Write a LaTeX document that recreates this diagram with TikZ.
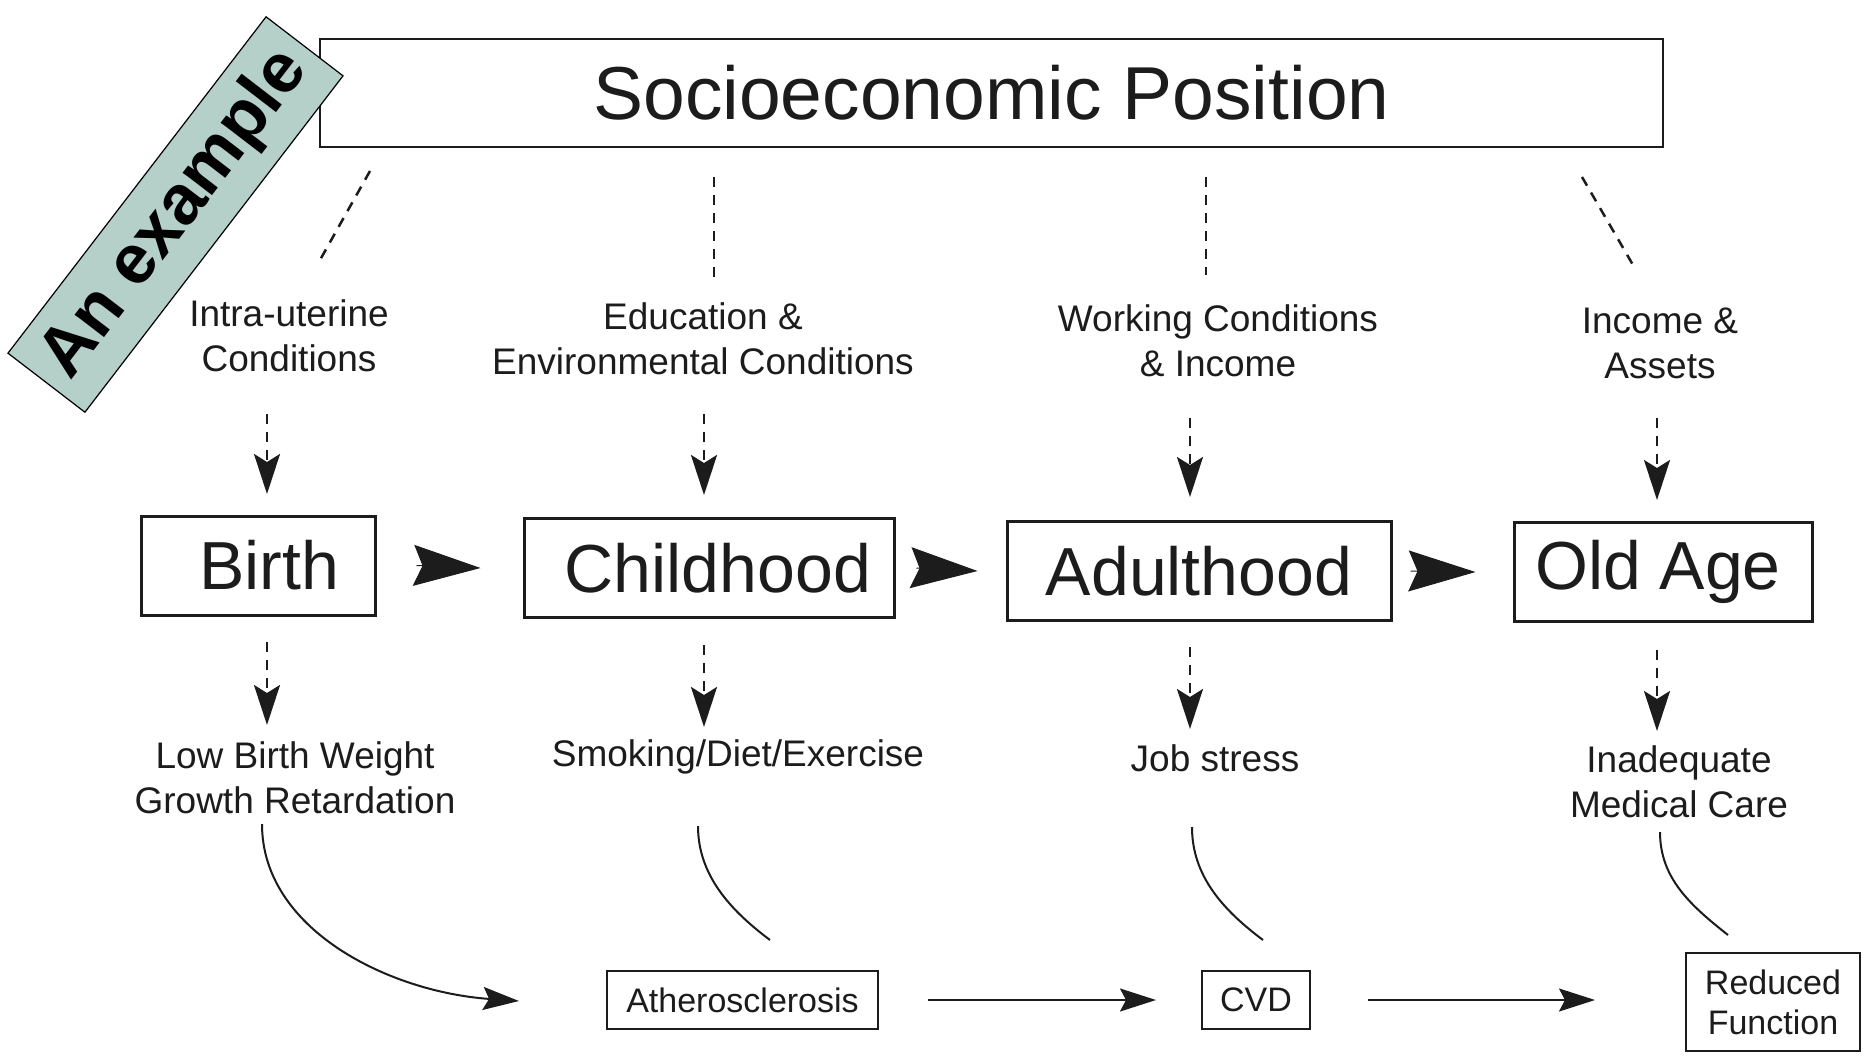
\documentclass[tikz,border=0pt]{standalone}
\usepackage{fontspec}
\setmainfont{Liberation Sans}
\usetikzlibrary{arrows.meta}
\definecolor{labelfill}{RGB}{181,207,201}
\definecolor{ink}{RGB}{28,28,28}
\begin{document}
\begin{tikzpicture}[x=1pt,y=-1pt,
  every node/.style={text=ink, inner sep=0pt},
  topbox/.style={draw=ink, line width=2.5pt, minimum width=1343pt, minimum height=108pt, font=\fontsize{75}{80}\selectfont},
  stagebox/.style={draw=ink, line width=3pt, minimum height=99pt, font=\fontsize{68}{72}\selectfont},
  factor/.style={align=center, font=\fontsize{37}{45}\selectfont},
  outbox/.style={draw=ink, line width=2pt, align=center, font=\fontsize{34}{40}\selectfont},
  dashline/.style={draw=ink, line width=2.5pt, dash pattern=on 10pt off 8pt},
  darrow/.style={dashline, -{Stealth[length=40pt,width=26pt,inset=8pt]}},
  bigtip/.style={draw=ink, line width=1pt, -{Stealth[length=67pt,width=41pt,inset=9pt]}},
  curveline/.style={draw=ink, line width=2pt},
  solidarrow/.style={curveline, -{Stealth[length=36pt,width=23pt,inset=6pt]}},
]
\fill[white] (0,0) rectangle (1872,1058);
\useasboundingbox (0,0) rectangle (1872,1058);

% top box
\node[topbox] (sep) at (991.5,93) {Socioeconomic Position};

% stage boxes
\node[stagebox, minimum width=234pt] (birth) at (258,565.5) {\hspace*{22pt}Birth};
\node[stagebox, minimum width=370pt] (child) at (709,568) {\hspace*{18pt}Childhood};
\node[stagebox, minimum width=384pt] (adult) at (1199,571) {Adulthood};
\node[stagebox, minimum width=298pt] (old) at (1663,572) {Old Age\hspace*{10pt}};

% level-1 factors
\node[factor] (f1) at (289,336) {Intra-uterine\\Conditions};
\node[factor] (f2) at (703,339) {Education \&\\Environmental Conditions};
\node[factor] (f3) at (1218,341) {Working Conditions\\\& Income};
\node[factor] (f4) at (1660,343) {Income \&\\Assets};

% level-3 risks
\node[factor] (r1) at (295,778) {Low Birth Weight\\Growth Retardation};
\node[factor] (r2) at (738,757) {Smoking/Diet/Exercise};
\node[factor] (r3) at (1215,758) {Job stress};
\node[factor] (r4) at (1679,782) {Inadequate\\Medical Care};

% outcome boxes
\node[outbox, minimum width=271pt, minimum height=58pt] (ath) at (742.5,1000) {Atherosclerosis};
\node[outbox, minimum width=108pt, minimum height=58pt] (cvd) at (1256,1000) {CVD};
\node[outbox, minimum width=174pt, minimum height=98pt] (red) at (1773,1002) {Reduced\\Function};

% coordinates for free-standing connector ends
\coordinate (t1a) at (370,171); \coordinate (t1b) at (320,260);
\coordinate (t2a) at (714,177); \coordinate (t2b) at (714,281);
\coordinate (t3a) at (1206,177); \coordinate (t3b) at (1206,275);
\coordinate (t4a) at (1582,177); \coordinate (t4b) at (1633,265);

\coordinate (a1a) at (267,414); \coordinate (a1b) at (267,494);
\coordinate (a2a) at (704,414); \coordinate (a2b) at (704,495);
\coordinate (a3a) at (1190,418); \coordinate (a3b) at (1190,497);
\coordinate (a4a) at (1657,418); \coordinate (a4b) at (1657,500);

\coordinate (b1a) at (267,642); \coordinate (b1b) at (267,725);
\coordinate (b2a) at (704,645); \coordinate (b2b) at (704,727);
\coordinate (b3a) at (1190,647); \coordinate (b3b) at (1190,729);
\coordinate (b4a) at (1657,650); \coordinate (b4b) at (1657,731);

\coordinate (c1a) at (262,824); \coordinate (c1b) at (519,1001);
\coordinate (c2a) at (698,826); \coordinate (c2b) at (770,940);
\coordinate (c3a) at (1192,827); \coordinate (c3b) at (1263,940);
\coordinate (c4a) at (1660,832); \coordinate (c4b) at (1728,935);

% dashed lines from socioeconomic position
\draw[dashline] (t1a) -- (t1b);
\draw[dashline] (t2a) -- (t2b);
\draw[dashline] (t3a) -- (t3b);
\draw[dashline] (t4a) -- (t4b);

% dashed arrows into stages
\draw[darrow] (a1a) -- (a1b);
\draw[darrow] (a2a) -- (a2b);
\draw[darrow] (a3a) -- (a3b);
\draw[darrow] (a4a) -- (a4b);

% dashed arrows out of stages
\draw[darrow] (b1a) -- (b1b);
\draw[darrow] (b2a) -- (b2b);
\draw[darrow] (b3a) -- (b3b);
\draw[darrow] (b4a) -- (b4b);

% big arrow tips between stages
\draw[bigtip] ([xshift=40pt]birth.east) -- ([xshift=-42pt]child.west);
\draw[bigtip] ([xshift=21pt]child.east) -- ([xshift=-28pt]adult.west);
\draw[bigtip] ([xshift=18pt]adult.east) -- ([xshift=-37pt]old.west);

% curves
\draw[solidarrow] (c1a) .. controls (262,930) and (390,992) .. (c1b);
\draw[curveline] (c2a) .. controls (698,875) and (730,910) .. (c2b);
\draw[curveline] (c3a) .. controls (1192,876) and (1223,910) .. (c3b);
\draw[curveline] (c4a) .. controls (1660,878) and (1690,905) .. (c4b);

% bottom arrows
\draw[solidarrow] ([xshift=49pt]ath.east) -- ([xshift=-45pt]cvd.west);
\draw[solidarrow] ([xshift=57pt]cvd.east) -- ([xshift=-90pt]red.west |- cvd.west);

% "An example" label
\node[draw=black, line width=1.2pt, fill=labelfill, minimum width=424pt, minimum height=97pt,
      rotate=52.5, text=black, font=\fontsize{70}{70}\bfseries\selectfont] (ex) at (175.5,214.5) {An example};
\end{tikzpicture}
\end{document}
